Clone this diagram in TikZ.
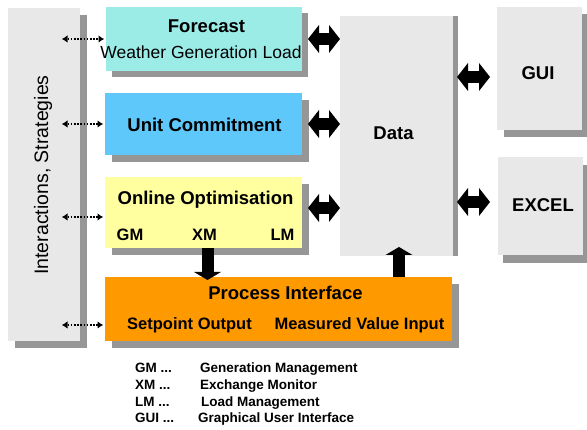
\documentclass[tikz,border=0pt]{standalone}
\usepackage{fontspec}
\setmainfont{Liberation Sans}
\usetikzlibrary{calc}
\usetikzlibrary{arrows.meta}
\usetikzlibrary{shadows}
\definecolor{fcast}{RGB}{155,235,230}
\definecolor{ucom}{RGB}{95,200,250}
\definecolor{oopt}{RGB}{255,255,160}
\definecolor{pint}{RGB}{255,153,0}
\definecolor{panel}{RGB}{232,232,232}
\definecolor{shade}{RGB}{150,150,150}
\newcommand\fsz[1]{\fontsize{#1}{#1}\selectfont}
\tikzset{
  blockbox/.style={inner sep=0pt, outer sep=0pt},
  shadowed/.style={general shadow={fill=shade, shadow xshift=#1, shadow yshift=-#1}},
  title/.style={font=\bfseries\fsz{18.5}, anchor=base, inner sep=0pt},
  subtitle/.style={font=\bfseries\fsz{16.5}, anchor=base, inner sep=0pt},
  legend/.style={font=\bfseries\fsz{13.5}, anchor=base west, inner sep=0pt},
  fatarrow/.style={line width=11.5pt, {Triangle[length=11pt,width=28pt,line width=0pt]}-{Triangle[length=11pt,width=28pt,line width=0pt]}},
  blockarrow/.style={line width=12pt, -{Triangle[length=8pt,width=27pt,line width=0pt]}},
  dotarrow/.style={line width=1.6pt, dash pattern=on 1.6pt off 1.6pt, {Latex[length=5.5pt,width=7pt,line width=0pt]}-{Latex[length=5.5pt,width=7pt,line width=0pt]}},
}

\begin{document}
\begin{tikzpicture}[x=1pt,y=-1pt]

\useasboundingbox (0,0) rectangle (587,430);

\node[blockbox, shadowed=7pt, fill=panel, minimum width=72pt, minimum height=333pt] (strat) at (44,174.5) {};
\node[blockbox, shadowed=6pt, fill=fcast, minimum width=196pt, minimum height=64pt] (fc) at (204,39) {};
\node[blockbox, shadowed=7pt, fill=ucom, minimum width=197pt, minimum height=62pt] (uc) at (203.5,124) {};
\node[blockbox, shadowed=7pt, fill=oopt, minimum width=197pt, minimum height=71pt] (oo) at (203.5,212.5) {};
\node[blockbox, shadowed=7pt, fill=pint, minimum width=347pt, minimum height=64pt] (pi) at (278.5,309) {};
\node[blockbox, general shadow={fill=shade, shadow xshift=5pt}, fill=panel, minimum width=113pt, minimum height=240pt] (data) at (396.5,136) {};
\node[blockbox, shadowed=7pt, fill=panel, minimum width=85pt, minimum height=123pt] (gui) at (539.5,68.5) {};
\node[blockbox, general shadow={fill=shade, shadow xshift=5pt, shadow yshift=-8pt}, fill=panel, minimum width=85pt, minimum height=98pt] (excel) at (540.5,206) {};

\node[font=\fsz{19.5}, rotate=90] (stratlbl) at (43,175) {Interactions, Strategies};
\node[title] (fclbl) at (206.5,32.6) {Forecast};
\node[font=\fsz{17.5}, anchor=base, inner sep=0pt] (fcsub) at (201,58.3) {Weather Generation Load};
\node[title] (uclbl) at (204.5,131.6) {Unit Commitment};
\node[title] (oolbl) at (205.5,205) {Online Optimisation};
\node[subtitle] (gm) at (130,241) {GM};
\node[subtitle] (xm) at (204.5,241) {XM};
\node[subtitle] (lm) at (282.5,241) {LM};
\node[title] (pilbl) at (285.5,300) {Process Interface};
\node[subtitle] (spo) at (189.5,329.5) {Setpoint Output};
\node[subtitle] (mvi) at (359.5,330) {Measured Value Input};
\node[title] (datalbl) at (393.5,140) {Data};
\node[title] (guilbl) at (538,80) {GUI};
\node[title] (excellbl) at (543,211.5) {EXCEL};

\coordinate (sx) at ([xshift=-18pt]strat.east);
\coordinate (oo-in) at ([yshift=-4.5pt]oo.west);
\coordinate (pi-in) at ([yshift=-16pt]pi.west);
\draw[dotarrow, shorten >=2pt] (sx |- fc.west) -- (fc.west);
\draw[dotarrow, shorten >=2pt] (sx |- uc.west) -- (uc.west);
\draw[dotarrow, shorten >=2pt] (sx |- oo-in) -- (oo-in);
\draw[dotarrow, shorten >=2pt] (sx |- pi-in) -- (pi-in);

\coordinate (oo-out) at ([shift={(6,-4.5)}]oo.east);
\draw[fatarrow] ([xshift=6pt]fc.east) -- (fc.east -| data.west);
\draw[fatarrow] ([xshift=6pt]uc.east) -- (uc.east -| data.west);
\draw[fatarrow] (oo-out) -- (oo-out -| data.west);

\coordinate (gui-in) at ([shift={(-7,8.5)}]gui.west);
\coordinate (excel-in) at ([shift={(-8,-4)}]excel.west);
\coordinate (dx) at ([xshift=4pt]data.east);
\draw[fatarrow] (dx |- gui-in) -- (gui-in);
\draw[fatarrow] (dx |- excel-in) -- (excel-in);

\coordinate (dn) at ([xshift=4pt]oo.south);
\coordinate (pv) at ([xshift=2.5pt]data.south);
\draw[blockarrow, shorten >=-3pt] (dn) -- (dn |- pi.north);
\draw[blockarrow] (pv |- pi.north) -- ([yshift=9pt]pv);

\node[legend] (lgm) at (135,373) {GM ...};
\node[legend] (lxm) at (135,390) {XM ...};
\node[legend] (llm) at (135,407) {LM ...};
\node[legend] (lgui) at (135,423) {GUI ...};
\node[legend] (tgm) at (200,373) {Generation Management};
\node[legend] (txm) at (200,390) {Exchange Monitor};
\node[legend] (tlm) at (201,407) {Load Management};
\node[legend] (tgui) at (198,423) {Graphical User Interface};

\end{tikzpicture}
\end{document}
